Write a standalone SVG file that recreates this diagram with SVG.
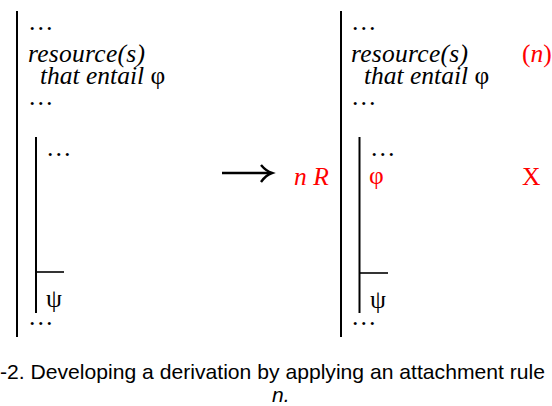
<svg xmlns="http://www.w3.org/2000/svg" width="552" height="406" viewBox="0 0 552 406">
<style>
.t{font-family:"Liberation Serif","Times New Roman",serif;font-size:25.5px;fill:#000}
.i{font-style:italic}
.r{fill:#ff0000}
.ln{stroke:#000;stroke-width:2;fill:none}
.bar{stroke:#000;stroke-width:1.6;fill:none}
.cap{font-family:"Liberation Sans",Arial,sans-serif;font-size:21px;fill:#000}
</style>
<rect width="552" height="406" fill="#fff"/>
<g id="left">
<line class="ln" x1="17" y1="11" x2="17" y2="337"/>
<line class="ln" x1="36" y1="137" x2="36" y2="313"/>
<line class="bar" x1="36" y1="272" x2="64" y2="272"/>
<text class="t" x="28" y="30">…</text>
<text class="t i" x="28" y="62" textLength="117">resource(s)</text>
<text class="t" x="40" y="84"><tspan class="i">that entail </tspan>φ</text>
<text class="t" x="28" y="105">…</text>
<text class="t" x="46" y="156">…</text>
<text class="t" x="46" y="307">ψ</text>
<text class="t" x="28" y="325">…</text>
</g>
<g id="connectors">
<path d="M222 173 H270" stroke="#000" stroke-width="2.4" fill="none"/>
<path d="M261 165 Q266 171 272 173 Q266 175 261 182" stroke="#000" stroke-width="2.4" fill="none"/>
</g>
<g id="right">
<line class="ln" x1="341" y1="11" x2="341" y2="337"/>
<line class="ln" x1="359.5" y1="137" x2="359.5" y2="313"/>
<line class="bar" x1="359.5" y1="273" x2="388" y2="273"/>
<text class="t" x="351" y="30">…</text>
<text class="t i" x="351" y="62" textLength="117">resource(s)</text>
<text class="t" x="364" y="84"><tspan class="i">that entail </tspan>φ</text>
<text class="t" x="351" y="105">…</text>
<text class="t" x="370" y="156">…</text>
<text class="t r" x="369" y="184">φ</text>
<text class="t" x="370" y="308">ψ</text>
<text class="t" x="351" y="325">…</text>
<text class="t r" x="522" y="62">(<tspan class="i">n</tspan>)</text>
<text class="t r i" x="294" y="185">n R</text>
<text class="t r" x="522" y="185">X</text>
</g>
<g id="caption">
<text class="cap" x="0" y="379" textLength="545" lengthAdjust="spacingAndGlyphs">-2. Developing a derivation by applying an attachment rule</text>
<text class="cap" x="272" y="402" font-style="italic">n.</text>
</g>
</svg>
